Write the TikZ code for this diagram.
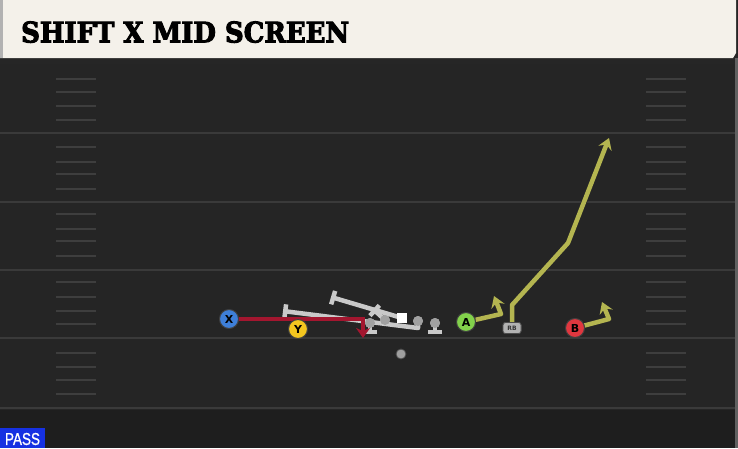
\documentclass[tikz,border=0pt]{standalone}
\usepackage{fontspec}
\setmainfont{DejaVu Sans}
\newfontfamily\titlefont{DejaVu Serif}[FakeBold=3.5]
\newfontfamily\tagfont{Liberation Sans}[FakeBold=1]
\usetikzlibrary{arrows.meta,positioning}

\definecolor{field}{HTML}{252525}
\definecolor{yardline}{HTML}{3A3A3A}
\definecolor{hashmark}{HTML}{3E3E3E}
\definecolor{header}{HTML}{F4F1EA}
\definecolor{routeolive}{HTML}{B4B550}
\definecolor{routered}{HTML}{A3162F}
\definecolor{blockgrey}{HTML}{C9C9C9}
\definecolor{xblue}{HTML}{3E7FD9}
\definecolor{yyellow}{HTML}{F3C61F}
\definecolor{agreen}{HTML}{82D14B}
\definecolor{bred}{HTML}{E0373F}
\definecolor{passblue}{HTML}{1631E2}

\tikzset{
  player/.style={circle, draw=black!75, line width=1pt, minimum size=19pt,
    inner sep=0pt, font=\bfseries\fontsize{11}{11}\selectfont},
  lineman/.style={circle, fill=blockgrey!80!black, minimum size=10pt, inner sep=0pt},
  snapper/.style={rectangle, fill=white, minimum size=10pt, inner sep=0pt},
  backer/.style={rounded corners=2.5pt, draw=black!70, fill=gray!60, line width=0.8pt,
    minimum width=18pt, minimum height=11pt, inner sep=0pt,
    font=\bfseries\fontsize{6}{6}\selectfont, text=black!80},
  route/.style={draw=routeolive, line width=4.5pt, line join=round,
    preaction={draw=black!85, line width=6pt},
    -{Stealth[length=11pt,width=14pt,inset=4pt]}},
  redroute/.style={draw=routered, line width=4.5pt, line join=miter,
    -{Stealth[length=10pt,width=14pt,inset=3pt]}},
  block/.style={draw=blockgrey, line width=4.5pt, line join=round, -{Bar[width=14pt]}},
}

\begin{document}
\begin{tikzpicture}[x=1pt,y=-1pt]
\useasboundingbox (0,0) rectangle (738,448);

% field
\fill[field] (0,0) rectangle (738,448);
\fill[black!20!field] (0,410) rectangle (738,448);
\fill[black!85] (0,56) rectangle (738,64);
\fill[yardline!80] (735,58) rectangle (738,448);
\foreach \y in {133,202,270,338,408}
  \draw[yardline, line width=2.2pt] (0,\y) -- (735,\y);
\foreach \y in {79,92,106,120,147,162,174,189,214,229,241,256,282,297,311,324,353,367,380,394} {
  \draw[hashmark, line width=1.6pt] (56,\y) -- (96,\y);
  \draw[hashmark, line width=1.6pt] (646,\y) -- (686,\y);
}

% header
\fill[header] (0,0) -- (736,0) -- (736,53) -- (733,58) -- (0,58) -- cycle;
\fill[black!30] (0,0) rectangle (3,58);
\node[anchor=south west, inner sep=0pt] (title) at (21,43)
  {\resizebox{328pt}{21pt}{\titlefont\bfseries SHIFT X MID SCREEN}};

% line
\node[lineman] (lt) at (370,323) {};
\node[lineman] (lg) at (385,320) {};
\node[snapper] (c) at (402,318) {};
\node[lineman] (rg) at (418,321) {};
\node[lineman] (rt) at (435,323) {};
\coordinate (ltset) at (370,334);
\coordinate (rtset) at (435,334);
\coordinate (cend) at (331,297);
\coordinate (lgend) at (373,309);
\coordinate (rgdrop) at (418,328);
\coordinate (rgend) at (283,311);
\draw[block] (rg.center) -- (rgdrop) -- (rgend);
\draw[block] (c.center) -- (cend);
\draw[block] (lg.center) -- (lgend);
\draw[block] (lt.center) -- (ltset);
\draw[block] (rt.center) -- (rtset);
\node[lineman] at (lt) {};
\node[lineman] at (lg) {};
\node[snapper] at (c) {};
\node[lineman] at (rg) {};
\node[lineman] at (rt) {};

% ball
\node[circle, fill=gray!75, draw=black!70, line width=0.8pt, minimum size=10pt, inner sep=0pt] (ball) at (401,354) {};

% routes
\node[player, fill=xblue] (x) at (229,319) {X};
\coordinate (xbreak) at (363,319);
\coordinate (xend) at (363,338);
\draw[redroute] (x) -- (xbreak) -- (xend);

\node[player, fill=agreen] (a) at (466,322) {A};
\coordinate (abreak) at (501,314);
\coordinate (aend) at (494,296);
\draw[route] (a) -- (abreak) -- (aend);

\node[player, fill=bred] (b) at (575,328) {B};
\coordinate (bbreak) at (609,319);
\coordinate (bend) at (602,302);
\draw[route] (b) -- (bbreak) -- (bend);

\node[backer] (rb) at (512,328) {RB};
\coordinate (rbup) at (512,305);
\coordinate (rbbreak) at (568,243);
\coordinate (rbend) at (609,138);
\draw[route] (rb) -- (rbup) -- (rbbreak) -- (rbend);
\node[backer] at (rb) {RB};

\node[player, fill=yyellow] (y) at (298,329) {Y};

% tag
\fill[passblue] (0,428) rectangle (45,448);
\node[inner sep=0pt, text=white] (tag) at (22.5,439)
  {\resizebox{35pt}{12pt}{\tagfont PASS}};
\end{tikzpicture}
\end{document}
